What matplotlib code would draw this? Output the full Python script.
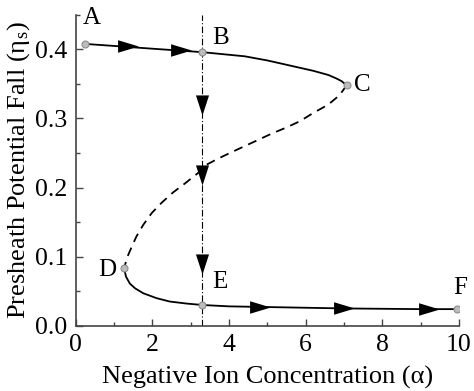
import matplotlib
matplotlib.use("Agg")
import matplotlib.pyplot as plt
from matplotlib.ticker import MultipleLocator

plt.rcParams['font.family'] = ['Liberation Serif', 'DejaVu Serif']
plt.rcParams['mathtext.fontset'] = 'stix'

# Upper stable branch (A -> B -> C)
upper_x = [0.23, 1.0, 2.0, 3.3, 4.41, 5.0, 5.72, 6.2, 6.59, 6.8, 6.94, 7.07]
upper_y = [0.408, 0.405, 0.401, 0.396, 0.390, 0.384, 0.375, 0.369, 0.363, 0.358, 0.354, 0.348]
# Unstable middle branch (C -> D)
mid_x = [7.07, 6.89, 6.59, 6.20, 5.85, 5.50, 5.11, 4.76, 4.37, 4.02, 3.72, 3.41,
         3.19, 2.85, 2.54, 2.24, 1.98, 1.76, 1.58, 1.45, 1.34, 1.26]
mid_y = [0.348, 0.334, 0.320, 0.308, 0.296, 0.287, 0.278, 0.269, 0.259, 0.250, 0.242, 0.233,
         0.221, 0.206, 0.193, 0.178, 0.163, 0.146, 0.129, 0.113, 0.099, 0.083]
# Lower stable branch (D -> E -> F)
lower_x = [1.26, 1.31, 1.41, 1.55, 1.76, 2.1, 2.45, 2.9, 3.3, 4.0, 5.0, 6.0, 7.0, 8.0, 9.0, 9.95]
lower_y = [0.083, 0.071, 0.061, 0.054, 0.047, 0.040, 0.035, 0.032, 0.030, 0.028, 0.027, 0.026,
           0.025, 0.0245, 0.024, 0.024]

# Labelled points
pt_names = ['A', 'B', 'C', 'D', 'E', 'F']
pt_x = [0.23, 3.3, 7.07, 1.26, 3.3, 9.95]
pt_y = [0.408, 0.396, 0.348, 0.083, 0.030, 0.024]
lab_x = [0.18, 3.55, 7.25, 0.58, 3.55, 9.85]
lab_y = [0.446, 0.417, 0.348, 0.081, 0.063, 0.055]

# Arrow positions
harrow_x = [1.35, 2.74, 4.81, 7.0, 9.22]
harrow_y = [0.405, 0.399, 0.027, 0.025, 0.024]
vline_x = 3.3
varrow_y = [0.320, 0.218, 0.089]

fig = plt.figure(figsize=(4.74, 3.91), dpi=100)
ax = fig.add_axes([0.160, 0.167, 0.808, 0.795])

ax.axvline(vline_x, color='black', lw=0.8, ls='-.', dashes=(6, 2, 1, 2), zorder=1)
ax.plot(upper_x, upper_y, color='black', lw=1.3, zorder=2)
ax.plot(mid_x, mid_y, color='black', lw=1.3, ls=(0, (5, 3.5)), zorder=2)
ax.plot(lower_x, lower_y, color='black', lw=1.3, zorder=2)

rarrow = [(-1, 0.6), (1, 0), (-1, -0.6), (-1, 0.6)]
darrow = [(0.65, 1), (0, -1), (-0.65, 1), (0.65, 1)]
ax.plot(harrow_x, harrow_y, ls='none', marker=rarrow, ms=15, color='black', mew=0, zorder=3)
ax.plot([vline_x] * len(varrow_y), varrow_y, ls='none', marker=darrow, ms=14.5, color='black', mew=0, zorder=3)

ax.plot(pt_x, pt_y, ls='none', marker='o', ms=5, mfc='#bdbdbd', mec='#8c8c8c', mew=0.8, zorder=4)
for n, x, y in zip(pt_names, lab_x, lab_y):
    ax.text(x, y, n, fontsize=18, ha='left', va='center')

ax.set_xlim(0, 10)
ax.set_ylim(0, 0.45)
ax.xaxis.set_major_locator(MultipleLocator(2))
ax.xaxis.set_minor_locator(MultipleLocator(1))
ax.yaxis.set_minor_locator(MultipleLocator(0.05))
ax.set_yticks([0.0, 0.1, 0.2, 0.3, 0.4])
ax.set_yticklabels(['0.0', '0.1', '0.2', '0.3', '0.4'])
ax.tick_params(which='both', direction='in', labelsize=18.5, color='#444444', width=1.0, pad=6)
ax.tick_params(which='major', length=5)
ax.tick_params(which='minor', length=3)
for s in ['top', 'right']:
    ax.spines[s].set_visible(False)
for s in ['left', 'bottom']:
    ax.spines[s].set_linewidth(1.2)
    ax.spines[s].set_color('#444444')

ax.set_xlabel('Negative Ion Concentration (α)', fontsize=19, labelpad=7)
ax.set_ylabel('Presheath Potential Fall (η$_\\mathregular{s}$)', fontsize=19, labelpad=2)

fig.savefig('out.png', dpi=100)
